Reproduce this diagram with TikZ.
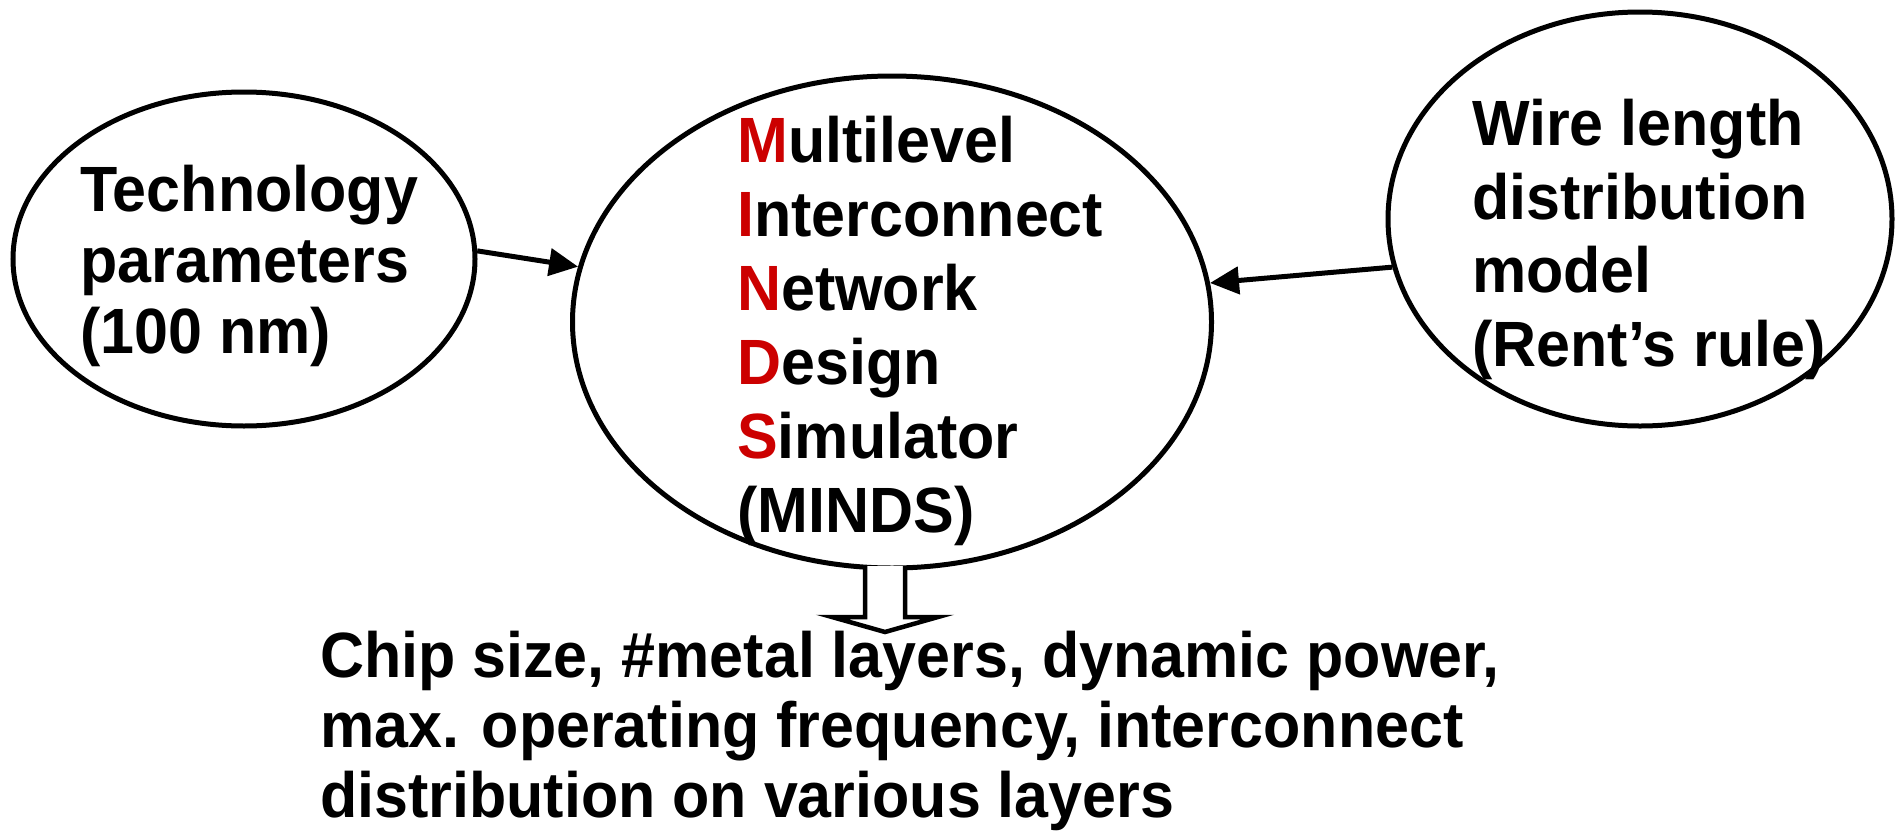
\documentclass[tikz,border=0pt]{standalone}
\usepackage{fontspec}
\setmainfont{Liberation Sans}[FakeStretch=0.953]
\usetikzlibrary{shapes.geometric,arrows.meta}
\definecolor{initred}{RGB}{204,0,0}
% bold label text; the argument is the line pitch
\newcommand{\labelfont}[1]{\bfseries\fontsize{64}{#1}\selectfont}
\tikzset{
  oval/.style={ellipse, draw=black, line width=5pt, inner sep=0pt},
  label text/.style={align=left, inner sep=0pt, anchor=base west},
  feed/.style={line width=5pt, -{Triangle[length=29pt,width=27pt]}},
  blockarrow/.style={draw=black, fill=white, line width=4.5pt, line join=miter},
}
\newcommand{\ini}[1]{\textcolor{initred}{#1}}
\begin{document}
\begin{tikzpicture}[x=1pt,y=-1pt]
  \useasboundingbox (0,0) rectangle (1895,830);

  % the three ovals
  \node[oval, minimum width=462pt, minimum height=334pt] (tech) at (244,259) {};
  \node[oval, minimum width=639pt, minimum height=492pt] (minds) at (892,322) {};
  \node[oval, minimum width=504pt, minimum height=414pt] (wire) at (1640,219) {};

  % texts inside the ovals (anchored at the baseline of their last line)
  \node[label text, font=\labelfont{71}] (techtxt) at (80,353) {Technology\\parameters\\(100 nm)};
  \node[label text, font=\labelfont{74}] (mindstxt) at (737,532)
    {\ini{M}ultilevel\\\ini{I}nterconnect\\\ini{N}etwork\\\ini{D}esign\\\ini{S}imulator\\(MINDS)};
  \node[label text, font=\labelfont{73.5}] (wiretxt) at (1472,366) {Wire length\\distribution\\model\\(Rent’s rule)};

  % inputs to the simulator
  \draw[feed] (tech.2) -- (minds.170);
  \draw[feed] (wire.191) -- (minds.7);

  % output block arrow
  \coordinate (outtail) at (885,566);
  \draw[blockarrow] (outtail) ++(-20,0) -- ++(0,51) -- ++(-33,0) -- (885,632)
    -- (938,617) -- (905,617) -- (905,566);

  % outputs
  \node[label text, font=\labelfont{70}] (outtxt) at (320,817)
    {Chip size, \#metal layers, dynamic power,\\max. operating frequency, interconnect\\distribution on various layers};
\end{tikzpicture}
\end{document}
